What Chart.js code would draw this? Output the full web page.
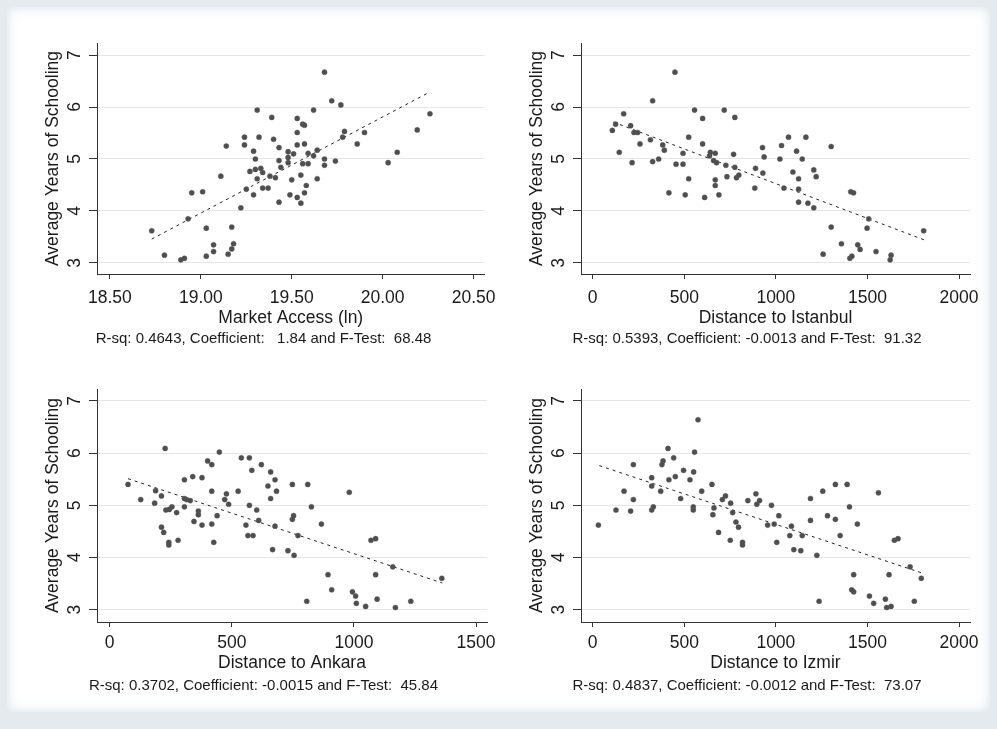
<!DOCTYPE html>
<html>
<head>
<meta charset="utf-8">
<script src="https://cdn.jsdelivr.net/npm/chart.js@4.4.1/dist/chart.umd.min.js"></script>
<style>
  html, body { margin: 0; padding: 0; }
  body { width: 997px; height: 729px; background: #e4eaee; position: relative; overflow: hidden; }
  #sheet { position: absolute; left: 7px; top: 7px; width: 983px; height: 705px; background: #fff;
           box-shadow: inset 0 0 12px rgba(210, 220, 227, 0.9); }
  .panel { position: absolute; }
</style>
</head>
<body>
<div id="sheet"></div>
<div class="panel" style="left:40px;top:23px;width:465px;height:330px"><canvas id="c1"></canvas></div>
<div class="panel" style="left:524px;top:23px;width:476px;height:330px"><canvas id="c2"></canvas></div>
<div class="panel" style="left:40px;top:369px;width:465px;height:331px"><canvas id="c3"></canvas></div>
<div class="panel" style="left:524px;top:369px;width:476px;height:331px"><canvas id="c4"></canvas></div>
<script>
// y axis (shared)
const yTicks = [3, 4, 5, 6, 7];

// Market Access (ln)
const maX = [19.68,19.72,19.77,19.31,19.62,19.39,19.53,19.56,19.57,20.26,
  20.19,19.53,19.79,19.90,19.24,19.32,19.78,19.40,19.14,19.24,
  19.43,19.53,19.57,19.86,19.29,19.48,19.51,19.59,19.64,19.62,
  20.08,19.30,19.43,19.48,19.68,19.74,19.48,19.56,19.59,19.68,
  20.03,19.44,19.30,19.33,19.27,19.34,19.11,19.38,19.41,19.55,
  19.31,19.50,19.64,19.58,19.34,19.37,19.25,18.95,19.01,19.57,
  19.29,19.49,19.53,19.43,19.55,19.22,18.93,18.73,19.03,19.17,
  19.07,19.18,19.07,19.17,19.15,18.80,19.03,18.89,18.91];
const maY = [6.67,6.12,6.04,5.94,5.94,5.80,5.78,5.67,5.65,5.87,
  5.56,5.51,5.53,5.51,5.42,5.42,5.42,5.38,5.25,5.27,
  5.22,5.27,5.29,5.29,5.15,5.14,5.10,5.11,5.17,5.06,
  5.13,5.00,4.97,5.03,5.00,4.96,4.93,4.91,4.91,4.88,
  4.93,4.84,4.80,4.82,4.76,4.74,4.67,4.67,4.64,4.69,
  4.62,4.60,4.62,4.49,4.44,4.44,4.42,4.35,4.37,4.35,
  4.31,4.31,4.26,4.17,4.15,4.06,3.85,3.62,3.67,3.69,
  3.35,3.37,3.22,3.27,3.17,3.15,3.13,3.06,3.09];
const maFitX = [18.73, 20.26];
const maFitY = [3.46, 6.29];
const maTicks = [18.5, 19, 19.5, 20, 20.5];
const maLabels = ['18.50', '19.00', '19.50', '20.00', '20.50'];

// Distance to Istanbul
const istX = [449,327,169,556,718,600,776,125,207,107,
  225,245,315,524,258,382,391,600,145,215,
  327,360,455,493,493,642,669,638,660,676,
  769,727,776,733,785,798,524,669,669,416,
  505,611,689,885,889,929,927,936,1022,1031,
  1069,1113,1144,1164,1044,1093,1124,1124,1124,1175,
  1207,1220,1207,1302,1409,1424,1507,1498,1302,1358,
  1447,1460,1258,1547,1629,1624,1404,1415,1807];
const istY = [6.67,6.12,5.87,5.94,5.94,5.78,5.80,5.67,5.64,5.55,
  5.51,5.51,5.37,5.42,5.29,5.27,5.17,5.29,5.13,4.93,
  4.95,5.00,4.90,4.90,5.11,5.13,5.11,5.06,4.97,4.93,
  5.09,4.88,4.84,4.66,4.64,4.69,4.62,4.60,4.49,4.35,
  4.31,4.26,4.31,4.44,4.82,4.73,5.22,5.04,5.00,5.26,
  5.42,5.15,5.00,5.42,4.44,4.75,4.62,4.42,4.17,4.15,
  4.79,4.66,4.06,5.24,4.37,4.35,3.85,3.67,3.69,3.37,
  3.35,3.26,3.17,3.22,3.15,3.06,3.09,3.13,3.62];
const istFitX = [113, 1813];
const istFitY = [5.71, 3.44];

// Distance to Ankara
const ankX = [227,449,539,572,401,418,621,582,659,340,
  378,306,677,75,648,748,811,188,418,526,
  683,981,212,478,127,306,315,330,471,184,
  487,659,572,306,255,244,230,274,363,602,
  826,363,440,753,748,345,610,378,418,558,
  677,867,212,221,566,587,771,280,242,242,
  426,667,730,755,1070,1089,1159,1089,894,1360,
  909,994,1007,1095,807,1010,1233,1048,1170];
const ankY = [6.09,6.02,5.91,5.91,5.85,5.78,5.78,5.67,5.64,5.55,
  5.53,5.49,5.49,5.40,5.37,5.40,5.40,5.28,5.27,5.27,
  5.27,5.25,5.18,5.22,5.11,5.13,5.11,5.09,5.11,5.04,
  5.02,5.13,5.00,4.97,4.97,4.92,4.91,4.86,4.89,4.91,
  4.97,4.82,4.80,4.80,4.73,4.69,4.71,4.62,4.64,4.62,
  4.60,4.64,4.58,4.48,4.42,4.42,4.42,4.33,4.29,4.24,
  4.29,4.15,4.13,4.04,4.33,4.36,3.82,3.67,3.67,3.60,
  3.38,3.34,3.26,3.20,3.16,3.12,3.16,3.06,3.04];
const ankFitX = [75, 1362];
const ankFitY = [5.51, 3.51];
const ankTicks = [0, 500, 1000, 1500];

// Distance to Izmir
const izmX = [575,411,556,442,384,378,222,496,551,451,
  322,416,531,322,651,1325,1389,171,371,595,
  1256,1560,891,725,1189,222,480,708,847,911,
  753,896,976,331,549,662,1402,127,322,207,
  549,764,656,1016,1282,782,1189,1325,955,991,
  1445,31,796,1085,687,1076,1144,1351,751,818,
  818,1005,1098,1136,1224,1647,1667,1733,1425,1618,
  1794,1414,1425,1511,1236,1534,1598,1605,1629,1756];
const izmY = [6.64,6.09,6.02,5.91,5.85,5.78,5.78,5.67,5.64,5.55,
  5.53,5.49,5.49,5.37,5.40,5.40,5.40,5.27,5.27,5.27,
  5.27,5.24,5.22,5.18,5.13,5.11,5.13,5.11,5.09,5.09,
  5.04,5.02,5.00,4.97,4.97,4.95,4.97,4.91,4.91,4.89,
  4.91,4.86,4.82,4.80,4.80,4.68,4.71,4.73,4.62,4.64,
  4.64,4.62,4.58,4.60,4.48,4.42,4.42,4.42,4.33,4.29,
  4.24,4.29,4.15,4.13,4.04,4.33,4.36,3.82,3.67,3.67,
  3.60,3.38,3.34,3.26,3.16,3.12,3.20,3.04,3.06,3.16];
const izmFitX = [36, 1800];
const izmFitY = [5.76, 3.70];

const distTicks = [0, 500, 1000, 1500, 2000];

const FONT = '"Liberation Sans", Arial, sans-serif';
const INK = '#1a1a1a';

// top row sits a little lower under its axis than the bottom row
const TOP_ROW = { xHeight: 55, tickPad: 9, notePad: 1 };
const BOTTOM_ROW = { xHeight: 52, tickPad: 6, notePad: 3 };

function makePanel(id, xs, ys, fitX, fitY, xTicks, xLabels, xMin, xMax, yMin, yMax, xTitle, note, padRight, row) {
  const pts = xs.map((x, i) => ({ x, y: ys[i] }));
  const fit = fitX.map((x, i) => ({ x, y: fitY[i] }));

  return new Chart(document.getElementById(id), {
    type: 'scatter',
    data: {
      datasets: [
        {
          data: pts,
          pointRadius: 2.6,
          pointHoverRadius: 2.6,
          pointBackgroundColor: '#4f4f4f',
          pointBorderColor: 'rgba(90,90,90,0.35)',
          pointBorderWidth: 1
        },
        {
          data: fit,
          showLine: true,
          pointRadius: 0,
          borderColor: '#222',
          borderWidth: 1,
          borderDash: [3, 4]
        }
      ]
    },
    options: {
      responsive: true,
      maintainAspectRatio: false,
      animation: false,
      events: [],
      layout: { padding: { left: 0, top: 20, right: padRight, bottom: 5 } },
      plugins: {
        legend: { display: false },
        tooltip: { enabled: false },
        title: {
          display: true,
          position: 'bottom',
          text: note,
          color: INK,
          font: { family: FONT, size: 15, weight: 'normal' },
          padding: { top: row.notePad, bottom: 0 }
        }
      },
      scales: {
        x: {
          min: xMin,
          max: xMax,
          afterBuildTicks: s => { s.ticks = xTicks.map(v => ({ value: v })); },
          afterFit: s => { s.height = row.xHeight; },
          ticks: {
            callback: (v, i) => xLabels[i],
            color: INK,
            font: { family: FONT, size: 17.5 },
            padding: row.tickPad,
            minRotation: 0,
            maxRotation: 0,
            autoSkip: false
          },
          grid: { drawOnChartArea: false, tickLength: 5, tickColor: '#333' },
          border: { color: '#333', width: 1 },
          title: {
            display: true,
            text: xTitle,
            color: INK,
            font: { family: FONT, size: 17.5 },
            padding: { top: 0, bottom: 0 }
          }
        },
        y: {
          min: yMin,
          max: yMax,
          afterBuildTicks: s => { s.ticks = yTicks.map(v => ({ value: v })); },
          afterFit: s => { s.width = 57; },
          ticks: {
            color: INK,
            font: { family: FONT, size: 17.5 },
            padding: 9,
            minRotation: 90,
            maxRotation: 90,
            crossAlign: 'center'
          },
          grid: { color: '#e6e6e6', tickLength: 8, tickColor: '#333' },
          border: { color: '#333', width: 1 },
          title: {
            display: true,
            text: 'Average Years of Schooling',
            color: INK,
            font: { family: FONT, size: 17.5 },
            padding: { top: 3, bottom: 0 }
          }
        }
      }
    }
  });
}

makePanel('c1', maX, maY, maFitX, maFitY, maTicks, maLabels, 18.429, 20.56, 2.788, 7.231,
  'Market Access (ln)', 'R-sq: 0.4643, Coefficient:   1.84 and F-Test:  68.48', 18, TOP_ROW);
makePanel('c2', istX, istY, istFitX, istFitY, distTicks, distTicks.map(String), -64, 2060, 2.788, 7.231,
  'Distance to Istanbul', 'R-sq: 0.5393, Coefficient: -0.0013 and F-Test:  91.32', 30, TOP_ROW);
makePanel('c3', ankX, ankY, ankFitX, ankFitY, ankTicks, ankTicks.map(String), -52, 1545, 2.762, 7.23,
  'Distance to Ankara', 'R-sq: 0.3702, Coefficient: -0.0015 and F-Test:  45.84', 18, BOTTOM_ROW);
makePanel('c4', izmX, izmY, izmFitX, izmFitY, distTicks, distTicks.map(String), -64, 2060, 2.762, 7.23,
  'Distance to Izmir', 'R-sq: 0.4837, Coefficient: -0.0012 and F-Test:  73.07', 30, BOTTOM_ROW);
</script>
</body>
</html>
